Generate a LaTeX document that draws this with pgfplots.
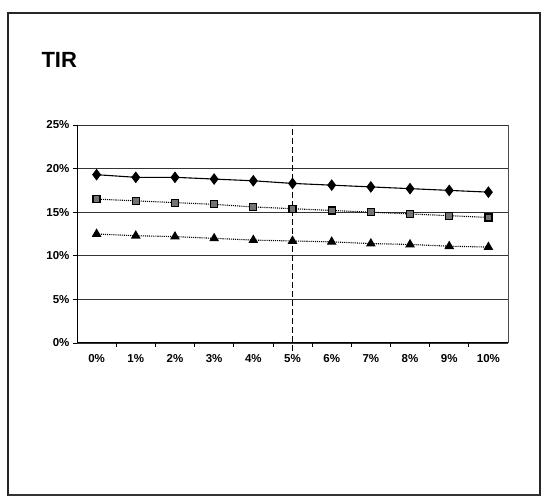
\documentclass[border=0pt]{standalone}
\usepackage{pgfplots}
\pgfplotsset{compat=1.18}
\usepackage{fontspec}
\setmainfont{Liberation Sans}
\begin{document}
\begin{tikzpicture}[x=1pt,y=1pt]
\path[fill=white] (0,0) rectangle (547,500);
% outer chart frame
\draw[line width=1.2pt, black!85] (8,5) rectangle (540,487);
\draw[line width=2.5pt, black!80] (8,5) -- (540,5);
\begin{axis}[
  at={(77pt,157pt)}, anchor=south west,
  scale only axis, width=431pt, height=218pt,
  xmin=-0.5, xmax=10.5, ymin=0, ymax=25,
  axis lines=left, axis line style={black, line width=1pt, -},
  xtick={0,...,10},
  xticklabels={0\%,1\%,2\%,3\%,4\%,5\%,6\%,7\%,8\%,9\%,10\%},
  major x tick style={draw=none},
  minor xtick={0.5,1.5,...,9.5},
  minor tick length=4pt,
  minor x tick style={black, line width=0.8pt},
  ytick={0,5,10,15,20,25},
  yticklabels={0\%,5\%,10\%,15\%,20\%,25\%},
  ymajorgrids, major grid style={black!80, line width=0.9pt},
  tick align=outside, major tick length=4pt,
  major y tick style={black, line width=0.8pt},
  ticklabel style={font=\fontsize{11.5}{13}\selectfont\bfseries},
  xticklabel style={yshift=-4pt},
  clip=false,
]
\draw[black, dash pattern=on 6pt off 3pt, line width=1.3pt] ([yshift=-8pt]axis cs:5,0) -- (axis cs:5,25);
\addplot[black, line width=1.1pt, mark=diamond*, mark size=5pt, mark options={solid, fill=black}]
  coordinates {(0,19.3)(1,19.0)(2,19.0)(3,18.8)(4,18.6)(5,18.3)(6,18.1)(7,17.9)(8,17.7)(9,17.5)(10,17.3)};
\addplot[black, line width=1.1pt, densely dotted, mark=square*, mark size=3.5pt, mark options={solid, fill=black!55, draw=black, line width=1.2pt}]
  coordinates {(0,16.5)(1,16.3)(2,16.1)(3,15.9)(4,15.6)(5,15.4)(6,15.2)(7,15.0)(8,14.8)(9,14.6)(10,14.4)};
\addplot[black, line width=1.1pt, densely dotted, mark=triangle*, mark size=4.5pt, mark options={solid, fill=black}]
  coordinates {(0,12.5)(1,12.3)(2,12.2)(3,12.0)(4,11.8)(5,11.7)(6,11.6)(7,11.4)(8,11.3)(9,11.1)(10,11.0)};
\draw[black!70, line width=0.9pt] (rel axis cs:1,0) -- (rel axis cs:1,1);
\end{axis}
\node[anchor=base west, font=\fontsize{22}{24}\selectfont\bfseries] at (38,432) {TIR};
\end{tikzpicture}
\end{document}
